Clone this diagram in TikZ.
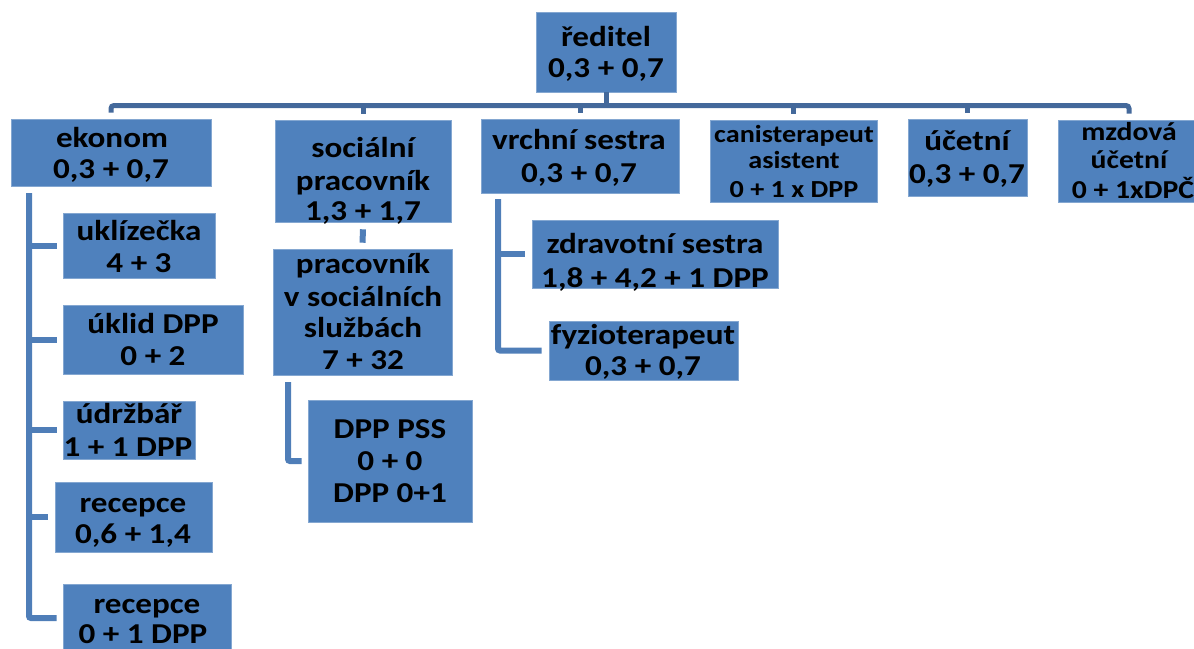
\documentclass[tikz,border=0pt]{standalone}
\usepackage{fontspec}
\setmainfont{Carlito}[FakeStretch=1.15]
\definecolor{boxblue}{HTML}{4F81BD}
\definecolor{busblue}{HTML}{44699B}
\definecolor{linkblue}{HTML}{4F7EB8}
\begin{document}
\begin{tikzpicture}[x=1pt,y=-1pt,
  box/.style={rectangle, fill=boxblue, draw=boxblue!70!white, line width=0.6pt, inner sep=0pt},
  lbl/.style={anchor=base, inner sep=0pt, font=\fontsize{28.8}{31}\selectfont\bfseries, text=black},
  slbl/.style={anchor=base, inner sep=0pt, font=\fontsize{24.5}{27}\selectfont\bfseries, text=black},
  mlbl/.style={anchor=base, inner sep=0pt, font=\fontsize{25.8}{27}\selectfont\bfseries, text=black},
  bus/.style={draw=busblue, line width=5pt, rounded corners=3pt},
  link/.style={draw=linkblue, line width=6pt, rounded corners=2pt}]
\useasboundingbox (0,0) rectangle (1194,648);
\clip (0,0) rectangle (1194,648);

% boxes
\node[box, minimum width=140pt, minimum height=80pt] (red) at (606,52) {};
\node[box, minimum width=200pt, minimum height=67pt] (ekonom) at (111,152.5) {};
\node[box, minimum width=176pt, minimum height=102pt] (soc) at (363,171) {};
\node[box, minimum width=198pt, minimum height=74pt] (vrch) at (580,156) {};
\node[box, minimum width=167pt, minimum height=82pt] (canis) at (793.5,161) {};
\node[box, minimum width=119pt, minimum height=77pt] (ucet) at (967.5,157.5) {};
\node[box, minimum width=142pt, minimum height=82pt] (mzd) at (1129,161) {};
\node[box, minimum width=152pt, minimum height=65pt] (ukl) at (139,245.5) {};
\node[box, minimum width=180pt, minimum height=69pt] (uklid) at (153,339.5) {};
\node[box, minimum width=132pt, minimum height=58pt] (udrz) at (129,430) {};
\node[box, minimum width=157pt, minimum height=70pt] (rec1) at (133.5,517) {};
\node[box, minimum width=168pt, minimum height=68pt] (rec2) at (147,618) {};
\node[box, minimum width=179pt, minimum height=126pt] (prac) at (362.5,312) {};
\node[box, minimum width=164pt, minimum height=122pt] (dpp) at (390,461) {};
\node[box, minimum width=246pt, minimum height=68pt] (zdr) at (655,254) {};
\node[box, minimum width=189pt, minimum height=59pt] (fyz) at (643.5,350.5) {};

% texts
\node[lbl] (red-1) at (606,46) {ředitel};
\node[lbl] (red-2) at (606,77) {0,3 + 0,7};
\node[lbl] (ekonom-1) at (112,147) {ekonom};
\node[lbl] (ekonom-2) at (111,178) {0,3 + 0,7};
\node[lbl] (soc-1) at (363,157) {sociální};
\node[lbl] (soc-2) at (363,190) {pracovník};
\node[lbl] (soc-3) at (363,220) {1,3 + 1,7};
\node[lbl] (vrch-1) at (579,149) {vrchní sestra};
\node[lbl] (vrch-2) at (579,182) {0,3 + 0,7};
\node[slbl] (canis-1) at (794,142) {canisterapeut};
\node[slbl] (canis-2) at (794,168) {asistent};
\node[slbl] (canis-3) at (794,197) {0 + 1 x DPP};
\node[lbl] (ucet-1) at (967,150) {účetní};
\node[lbl] (ucet-2) at (967,183) {0,3 + 0,7};
\node[mlbl] (mzd-1) at (1129,140) {mzdová};
\node[mlbl] (mzd-2) at (1129,168) {účetní};
\node[mlbl] (mzd-3) at (1133,198) {0 + 1xDPČ};
\node[lbl] (ukl-1) at (139,240) {uklízečka};
\node[lbl] (ukl-2) at (139,272) {4 + 3};
\node[lbl] (uklid-1) at (153,333) {úklid DPP};
\node[lbl] (uklid-2) at (153,365) {0 + 2};
\node[lbl] (udrz-1) at (129,423) {údržbář};
\node[lbl] (udrz-2) at (128,456) {1 + 1 DPP};
\node[lbl] (rec1-1) at (133,512) {recepce};
\node[lbl] (rec1-2) at (133,543) {0,6 + 1,4};
\node[lbl] (rec2-1) at (147,613) {recepce};
\node[lbl] (rec2-2) at (143,643) {0 + 1 DPP};
\node[lbl] (prac-1) at (363,273) {pracovník};
\node[lbl] (prac-2) at (363,306) {v sociálních};
\node[lbl] (prac-3) at (363,337) {službách};
\node[lbl] (prac-4) at (363,369) {7 + 32};
\node[lbl] (dpp-1) at (390,438) {DPP PSS};
\node[lbl] (dpp-2) at (390,470) {0 + 0};
\node[lbl] (dpp-3) at (390,502) {DPP 0+1};
\node[lbl] (zdr-1) at (655,253) {zdravotní sestra};
\node[lbl] (zdr-2) at (655,287) {1,8 + 4,2 + 1 DPP};
\node[lbl] (fyz-1) at (643,344) {fyzioterapeut};
\node[lbl] (fyz-2) at (643,375) {0,3 + 0,7};

% top bus
\coordinate (busmid) at (606,105.5);
\draw[bus] ([yshift=6pt]ekonom.north) |- (busmid) -| ([yshift=6pt]mzd.north);
\draw[bus, rounded corners=0pt] (red.south) -- (busmid);
\foreach \n in {soc,vrch,canis,ucet}
  \draw[bus, rounded corners=0pt] ([yshift=6pt]\n.north) -- (\n.north |- busmid);

% ekonom branch
\coordinate (ekv) at (29,193);
\draw[link] (ekv) |- ([xshift=-6pt]rec2.west);
\foreach \n in {ukl,uklid,udrz}
  \draw[link, rounded corners=0pt] (ekv |- \n.west) -- ([xshift=-6pt]\n.west);
\draw[link, rounded corners=0pt] (ekv |- rec1.west) -- ([xshift=-7pt]rec1.west);

% social branch
\draw[link, rounded corners=0pt] ([yshift=-7pt]soc.south) -- ([yshift=6pt]prac.north);
\coordinate (pv) at (288,382);
\draw[link] (pv) |- ([xshift=-6pt]dpp.west);

% nurse branch
\coordinate (vv) at (498,199);
\draw[link] (vv) |- ([xshift=-7pt]fyz.west);
\draw[link, rounded corners=0pt] (vv |- zdr.west) -- ([xshift=-7pt]zdr.west);
\end{tikzpicture}
\end{document}
